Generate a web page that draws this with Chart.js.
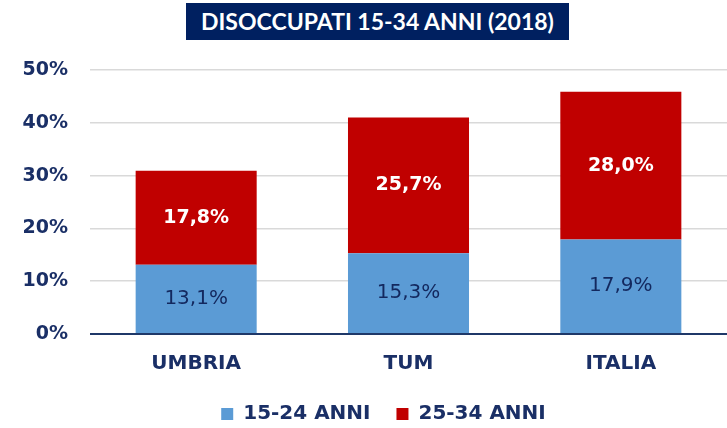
<!DOCTYPE html>
<html>
<head>
<meta charset="utf-8">
<script src="https://cdn.jsdelivr.net/npm/chart.js@4/dist/chart.umd.min.js"></script>
<style>
  html, body { margin: 0; padding: 0; background: #fff; }
  #wrap { position: relative; width: 727px; height: 428px; }
  #title {
    position: absolute; left: 186px; top: 3px; width: 383px; height: 37px;
    background: #002060; color: #fff; font: bold 23px "Lato", "DejaVu Sans", sans-serif;
    text-align: center; line-height: 36px;
  }
</style>
</head>
<body>
<div id="wrap">
  <canvas id="chart" width="727" height="428"></canvas>
  <div id="title">DISOCCUPATI 15-34 ANNI (2018)</div>
</div>
<script>
const categories = ["UMBRIA", "TUM", "ITALIA"];
const young = [13.1, 15.3, 17.9];   // 15-24 anni
const adults = [17.8, 25.7, 28.0];  // 25-34 anni
const seriesNames = ["15-24 ANNI", "25-34 ANNI"];
const tickValues = [0, 10, 20, 30, 40, 50];

const navy = "#1a2f66";
const fontFamily = "'DejaVu Sans', sans-serif";

// writes the value in the middle of each bar segment
const barLabels = {
  id: "barLabels",
  afterDatasetsDraw(chart) {
    const ctx = chart.ctx;
    ctx.save();
    ctx.textAlign = "center";
    ctx.textBaseline = "middle";
    chart.data.datasets.forEach((ds, i) => {
      const meta = chart.getDatasetMeta(i);
      meta.data.forEach((bar, j) => {
        const y = (bar.y + bar.base) / 2;
        ctx.fillStyle = i === 0 ? "#13285e" : "#ffffff";
        ctx.font = (i === 0 ? "20px " : "bold 19px ") + fontFamily;
        ctx.fillText(ds.data[j].toFixed(1).replace(".", ",") + "%", bar.x, y);
      });
    });
    ctx.restore();
  }
};

// legend sits a bit right of the canvas centre and a little lower
const nudgeLegend = {
  id: "nudgeLegend",
  afterLayout(chart) {
    const lg = chart.legend;
    lg.left += 20; lg.right += 20;
    lg.top += 6; lg.bottom += 6;
  }
};

new Chart(document.getElementById("chart"), {
  type: "bar",
  data: {
    labels: categories,
    datasets: [
      { label: seriesNames[0], data: young, backgroundColor: "#5b9bd5" },
      { label: seriesNames[1], data: adults, backgroundColor: "#c00000" }
    ]
  },
  options: {
    responsive: false,
    animation: false,
    layout: { padding: { top: 70, right: 0, left: 0, bottom: 0 } },
    datasets: { bar: { categoryPercentage: 0.57, barPercentage: 1 } },
    scales: {
      x: {
        stacked: true,
        grid: { display: false },
        border: { display: false },
        ticks: { color: navy, font: { family: fontFamily, size: 20, weight: "bold" }, padding: 10 }
      },
      y: {
        stacked: true,
        min: 0,
        max: 50,
        afterFit: scale => { scale.width = 90; },
        afterBuildTicks: scale => { scale.ticks = tickValues.map(v => ({ value: v })); },
        border: { display: false },
        grid: {
          drawTicks: false,
          color: c => (c.tick.value === 0 ? "#1f3868" : "#d9d9d9"),
          lineWidth: c => (c.tick.value === 0 ? 2 : 1.5)
        },
        ticks: {
          color: navy,
          padding: 22,
          font: { family: fontFamily, size: 19, weight: "bold" },
          callback: v => v + "%"
        }
      }
    },
    plugins: {
      legend: {
        position: "bottom",
        labels: {
          color: navy,
          boxWidth: 12,
          boxHeight: 12,
          padding: 12,
          font: { family: fontFamily, size: 20, weight: "bold" },
          generateLabels: chart => {
            const items = Chart.defaults.plugins.legend.labels.generateLabels(chart);
            items[0].text += "\u00a0\u00a0";
            return items;
          }
        }
      },
      tooltip: { enabled: false }
    }
  },
  plugins: [barLabels, nudgeLegend]
});
</script>
</body>
</html>
